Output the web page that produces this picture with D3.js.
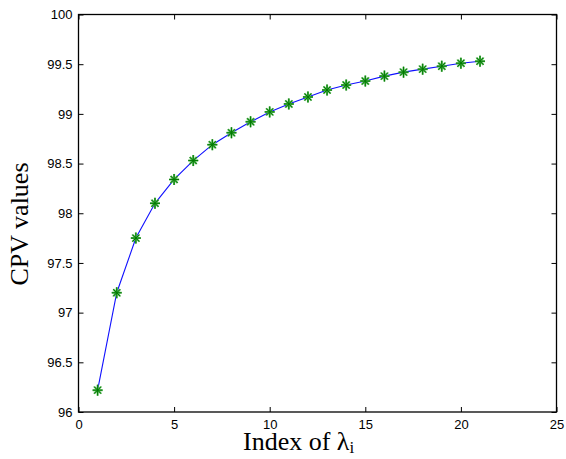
<!DOCTYPE html>
<html><head><meta charset="utf-8">
<script src="https://cdn.jsdelivr.net/npm/d3@7"></script>
<style>body{margin:0;background:#fff}svg{display:block}</style>
</head><body>
<script>
const indices = [1,2,3,4,5,6,7,8,9,10,11,12,13,14,15,16,17,18,19,20,21];
const cpvValues = [96.22,97.20,97.75,98.10,98.34,98.53,98.69,98.81,98.92,99.02,99.10,99.17,99.24,99.29,99.33,99.38,99.42,99.45,99.48,99.51,99.53];
const xTicks = [0,5,10,15,20,25];
const yTicks = [96,96.5,97,97.5,98,98.5,99,99.5,100];

const W = 566, H = 459;
const m = {l:78.5, r:556.5, t:14.5, b:412};
const svg = d3.select("body").append("svg").attr("width",W).attr("height",H);
const x = d3.scaleLinear().domain([0,25]).range([m.l,m.r]);
const y = d3.scaleLinear().domain([96,100]).range([m.b,m.t]);
const tf = "Liberation Sans, Arial, sans-serif";
const sf = "Liberation Serif, Times New Roman, serif";

svg.append("rect").attr("x",m.l).attr("y",m.t).attr("width",m.r-m.l).attr("height",m.b-m.t)
  .attr("fill","none").attr("stroke","#000").attr("stroke-width",1.3);

const fmt = d => String(d);
const gx = svg.append("g").attr("transform",`translate(0,${m.b})`)
  .call(d3.axisBottom(x).tickValues(xTicks).tickFormat(fmt).tickSizeInner(-5).tickSizeOuter(0).tickPadding(8));
const gxt = svg.append("g").attr("transform",`translate(0,${m.t})`)
  .call(d3.axisTop(x).tickValues(xTicks).tickFormat("").tickSizeInner(-5).tickSizeOuter(0));
const gy = svg.append("g").attr("transform",`translate(${m.l},0)`)
  .call(d3.axisLeft(y).tickValues(yTicks).tickFormat(fmt).tickSizeInner(-5).tickSizeOuter(0).tickPadding(6));
const gyr = svg.append("g").attr("transform",`translate(${m.r},0)`)
  .call(d3.axisRight(y).tickValues(yTicks).tickFormat("").tickSizeInner(-5).tickSizeOuter(0));
[gx,gxt,gy,gyr].forEach(g=>{
  g.select(".domain").remove();
  g.selectAll("line").attr("stroke","#000").attr("stroke-width",1);
  g.selectAll("text").attr("font-family",tf).attr("font-size",13).attr("fill","#000");
});

svg.append("path").datum(indices.map((d,i)=>[d,cpvValues[i]]))
  .attr("d", d3.line().x(d=>x(d[0])).y(d=>y(d[1])))
  .attr("fill","none").attr("stroke","#1010ff").attr("stroke-width",1.1);

const mk = svg.append("g").selectAll("g").data(indices.map((d,i)=>[d,cpvValues[i]])).join("g")
  .attr("transform",d=>`translate(${x(d[0])},${y(d[1])})`);
const p = "M-5,0H5M0,-5.5V5.5M-3.5,-3.5L3.5,3.5M-3.5,3.5L3.5,-3.5";
mk.append("path").attr("d",p).attr("stroke","#55b555").attr("stroke-width",2).attr("fill","none");
mk.append("path").attr("d",p).attr("stroke","#007a00").attr("stroke-width",1).attr("fill","none");

const xl = svg.append("text").attr("x",243).attr("y",450).attr("text-anchor","start")
  .attr("font-family",sf).attr("font-size",26).attr("fill","#000");
xl.append("tspan").text("Index of λ");
xl.append("tspan").attr("font-size",17).attr("dy",3).text("i");

svg.append("text").attr("transform",`translate(28,224) rotate(-90)`).attr("text-anchor","middle")
  .attr("font-family",sf).attr("font-size",26).attr("fill","#000")
  .text("CPV values");
</script>
</body></html>
